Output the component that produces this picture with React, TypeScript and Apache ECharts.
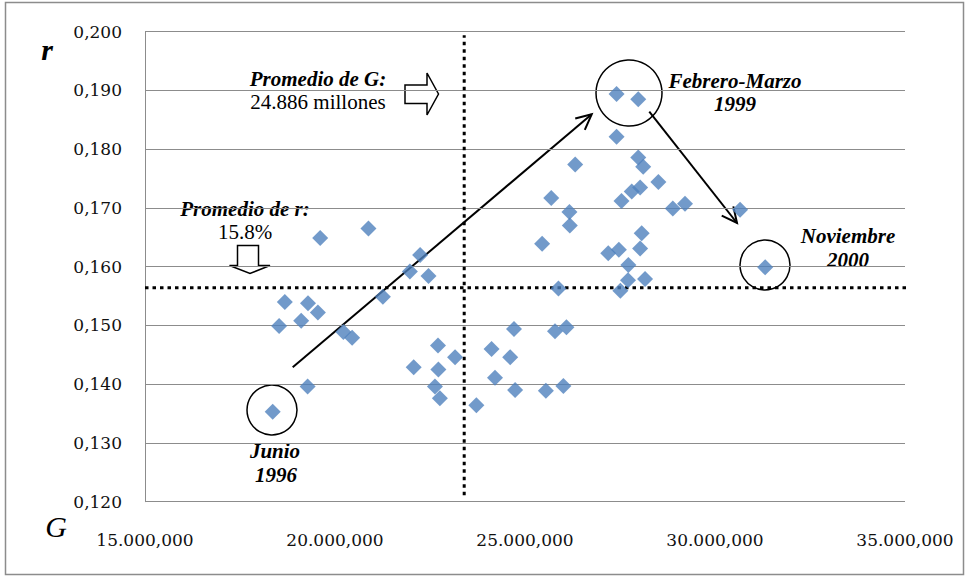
import React, { useEffect, useRef } from "react";
import * as echarts from "echarts";

// G in millions, r as fraction
const gValues = [
  18.36, 18.53, 18.68, 19.11, 19.29, 19.55, 19.28, 19.61, 20.22, 20.45,
  20.88, 21.26, 21.97, 22.24, 22.46, 22.07, 22.71, 22.72, 22.63, 22.76,
  23.16, 23.72, 24.12, 24.21, 24.61, 24.71, 24.74, 25.55, 25.79, 26.09,
  26.01, 25.88, 25.45, 25.69, 26.17, 26.18, 26.32, 27.19, 27.47, 27.72,
  27.71, 27.51, 28.16, 28.03, 28.07, 27.41, 27.98, 27.41, 27.98, 28.11,
  28.51, 28.03, 27.81, 27.54, 28.89, 29.21, 30.66, 31.32,
];
const rValues = [
  0.1353, 0.1499, 0.154, 0.1508, 0.1538, 0.1522, 0.1396, 0.1649, 0.1489, 0.1479,
  0.1665, 0.1549, 0.1592, 0.162, 0.1584, 0.1429, 0.1466, 0.1425, 0.1396, 0.1376,
  0.1446, 0.1364, 0.146, 0.1411, 0.1446, 0.1494, 0.139, 0.1389, 0.149, 0.1497,
  0.1397, 0.1563, 0.1639, 0.1717, 0.1693, 0.167, 0.1774, 0.1623, 0.1629, 0.1603,
  0.1577, 0.1559, 0.1579, 0.1631, 0.1657, 0.1894, 0.1885, 0.1821, 0.1786, 0.177,
  0.1744, 0.1735, 0.1728, 0.1712, 0.1699, 0.1707, 0.1697, 0.1599,
];
const xTickLabels = ["15.000,000", "20.000,000", "25.000,000", "30.000,000", "35.000,000"];
const yTickLabels = ["0,120", "0,130", "0,140", "0,150", "0,160", "0,170", "0,180", "0,190", "0,200"];
const avgG = 23.4; // position of the vertical dotted line (millions)
const avgR = 0.1564; // position of the horizontal dotted line
const vLineSpan = [0.1211, 0.1994];
const hLineSpan = [15, 35.2];

const SERIF = '"Liberation Serif", "Times New Roman", serif';

function arrow(x1: number, y1: number, x2: number, y2: number, len = 17, ang = 0.45) {
  const a = Math.atan2(y2 - y1, x2 - x1);
  const p1 = [x2 - len * Math.cos(a - ang), y2 - len * Math.sin(a - ang)];
  const p2 = [x2 - len * Math.cos(a + ang), y2 - len * Math.sin(a + ang)];
  return [
    { type: "line", shape: { x1, y1, x2, y2 }, style: { stroke: "#000", lineWidth: 2 } },
    { type: "polyline", shape: { points: [p1, [x2, y2], p2] }, style: { stroke: "#000", lineWidth: 2, fill: null } },
  ];
}

function txt(text: string, x: number, y: number, font: string) {
  return {
    type: "text",
    x,
    y,
    style: {
      text,
      font,
      fill: "#000",
      align: "center",
      verticalAlign: "middle",
      textAlign: "center",
      textVerticalAlign: "middle",
    },
  };
}

export default function App() {
  const ref = useRef<HTMLDivElement>(null);
  useEffect(() => {
    const chart = echarts.init(ref.current!, null, { renderer: "svg" });
    const bi = `bold italic 21px ${SERIF}`;
    const rg = `21px ${SERIF}`;
    const graphic: any[] = [
      {
        type: "rect",
        shape: { x: 5.5, y: 2.5, width: 958, height: 572 },
        style: { fill: null, stroke: "#8c8c8c", lineWidth: 1.5 },
        silent: true,
      },
      // circles
      { type: "circle", shape: { cx: 272, cy: 410, r: 25 }, style: { fill: null, stroke: "#000", lineWidth: 1.5 } },
      { type: "circle", shape: { cx: 629, cy: 93, r: 33 }, style: { fill: null, stroke: "#000", lineWidth: 1.5 } },
      { type: "circle", shape: { cx: 765, cy: 265, r: 25 }, style: { fill: null, stroke: "#000", lineWidth: 1.5 } },
      // arrows
      ...arrow(292.7, 367.3, 591.7, 114.3),
      ...arrow(649.3, 111.7, 737, 223),
      // block arrow right
      {
        type: "polygon",
        shape: {
          points: [
            [405, 85], [427, 85], [427, 73], [438.5, 94], [427, 115], [427, 103.5], [405, 103.5],
          ],
        },
        style: { fill: "#fff", stroke: "#000", lineWidth: 1.5 },
      },
      // block arrow down
      {
        type: "polygon",
        shape: {
          points: [
            [237.5, 245.5], [258.5, 245.5], [258.5, 265.5], [270, 265.5], [250, 273.5], [229.5, 265.5], [237.5, 265.5],
          ],
        },
        style: { fill: "#fff", stroke: "#000", lineWidth: 1.5 },
      },
      txt("Promedio de G:", 318, 79, bi),
      txt("24.886 millones", 318, 102, rg),
      txt("Promedio de r:", 245, 209, bi),
      txt("15.8%", 245, 232, rg),
      txt("Febrero-Marzo", 735, 81, bi),
      txt("1999", 735, 104, bi),
      txt("Noviembre", 848, 236, bi),
      txt("2000", 848, 260, bi),
      txt("Junio", 275, 451, bi),
      txt("1996", 276, 475, bi),
      txt("r", 47, 49, `bold italic 30px ${SERIF}`),
      txt("G", 56, 526, `italic 30px ${SERIF}`),
    ];

    chart.setOption({
      animation: false,
      backgroundColor: "#fff",
      grid: { left: 145, right: 62, top: 31.7, bottom: 75.3, containLabel: false },
      xAxis: {
        type: "value",
        min: 15,
        max: 35,
        interval: 5,
        axisLine: { show: false },
        axisTick: { show: false },
        splitLine: { show: false },
        axisLabel: {
          margin: 30,
          fontFamily: "DejaVu Serif",
          fontSize: 17,
          color: "#111",
          formatter: (v: number) => xTickLabels[Math.round((v - 15) / 5)] ?? "",
        },
      },
      yAxis: {
        type: "value",
        min: 0.12,
        max: 0.2,
        interval: 0.01,
        axisLine: { show: true, lineStyle: { color: "#8c8c8c", width: 1 } },
        axisTick: { show: false },
        splitLine: { show: true, lineStyle: { color: "#8c8c8c", width: 1 } },
        axisLabel: {
          margin: 23,
          fontFamily: "DejaVu Serif",
          fontSize: 17,
          color: "#111",
          formatter: (v: number) => yTickLabels[Math.round((v - 0.12) / 0.01)] ?? "",
        },
      },
      series: [
        {
          type: "line",
          data: [[avgG, vLineSpan[0]], [avgG, vLineSpan[1]]],
          symbol: "none",
          clip: false,
          silent: true,
          lineStyle: { color: "#000", width: 3, type: [3.5, 4], cap: "butt" },
          z: 1,
        },
        {
          type: "line",
          data: [[hLineSpan[0], avgR], [hLineSpan[1], avgR]],
          symbol: "none",
          clip: false,
          silent: true,
          lineStyle: { color: "#000", width: 3, type: [3.5, 4], cap: "butt" },
          z: 1,
        },
        {
          type: "scatter",
          data: gValues.map((g, i) => [g, rValues[i]]),
          symbol: "diamond",
          symbolSize: 16,
          itemStyle: { color: "#4f81bd" },
          z: 3,
        },
      ],
      graphic,
    });
    return () => chart.dispose();
  }, []);
  return (
    <div
      ref={ref}
      style={{ position: "fixed", left: 0, top: 0, width: 967, height: 577, background: "#fff" }}
    />
  );
}
